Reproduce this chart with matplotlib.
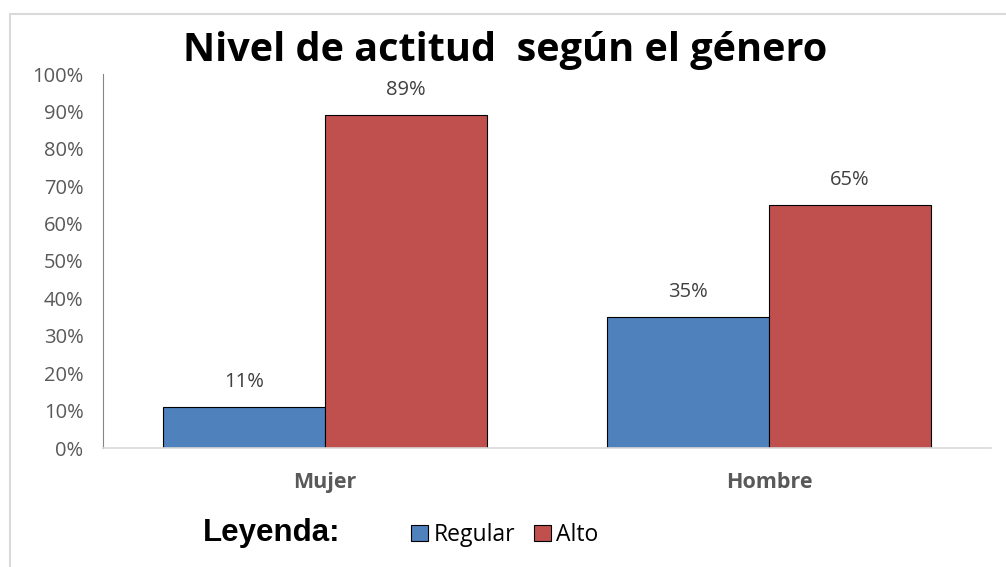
import matplotlib.pyplot as plt
from matplotlib.patches import Rectangle

categorias = ['Mujer', 'Hombre']
regular = [11, 35]
alto = [89, 65]
ticks_y = [0, 10, 20, 30, 40, 50, 60, 70, 80, 90, 100]

plt.rcParams['font.family'] = ['Open Sans', 'DejaVu Sans']

W, H = 1006, 567
fig = plt.figure(figsize=(W / 100, H / 100), dpi=100)
fig.patch.set_facecolor('white')

# marco gris claro
fig.patches.append(Rectangle((10 / W, -0.1), 1.2, (H - 14) / H + 0.1,
                             transform=fig.transFigure, fill=False,
                             edgecolor='#d9d9d9', linewidth=1.5))

ax = fig.add_axes([103 / W, 1 - 448 / H, (991 - 103) / W, (448 - 74) / H])
x = list(range(len(categorias)))
ancho = 0.365
b1 = ax.bar([i - ancho / 2 for i in x], regular, ancho, color='#4f81bd',
            edgecolor='black', linewidth=0.8, label='Regular')
b2 = ax.bar([i + ancho / 2 for i in x], alto, ancho, color='#c0504d',
            edgecolor='black', linewidth=0.8, label='Alto')

for barras in (b1, b2):
    for b in barras:
        ax.annotate(f'{int(b.get_height())}%', (b.get_x() + b.get_width() / 2, b.get_height()),
                    xytext=(0, 11), textcoords='offset points', ha='center', va='bottom',
                    fontsize=14.5, color='#404040')

ax.set_xlim(-0.5, 1.5)
ax.set_ylim(0, 100)
ax.set_yticks(ticks_y)
ax.set_yticklabels([f'{t}%' for t in ticks_y], fontsize=14.5, color='#595959')
ax.set_xticks(x)
ax.set_xticklabels(categorias, fontsize=15.5, color='#595959', fontweight='bold')
ax.tick_params(axis='y', length=0, pad=14)
ax.tick_params(axis='x', length=0, pad=17)
ax.spines['top'].set_visible(False)
ax.spines['right'].set_visible(False)
ax.spines['left'].set_color('#868686')
ax.spines['bottom'].set_color('#d9d9d9')
ax.spines['bottom'].set_linewidth(1.2)

fig.text(505 / W, 1 - 50 / H, 'Nivel de actitud  según el género', ha='center', va='center',
         fontsize=28.5, fontweight='bold', color='black')

fig.text(203 / W, 1 - 533 / H, 'Leyenda:', ha='left', va='center',
         fontsize=22.5, fontweight='bold', family=['Liberation Sans', 'DejaVu Sans'])

ax.legend(loc='center left', bbox_to_anchor=(390 / W, 1 - 535 / H), bbox_transform=fig.transFigure,
          ncol=2, frameon=False, fontsize=16.5, handlelength=0.75, handleheight=0.75,
          handletextpad=0.25, columnspacing=0.8)

fig.savefig('out.png', dpi=100, facecolor='white')
